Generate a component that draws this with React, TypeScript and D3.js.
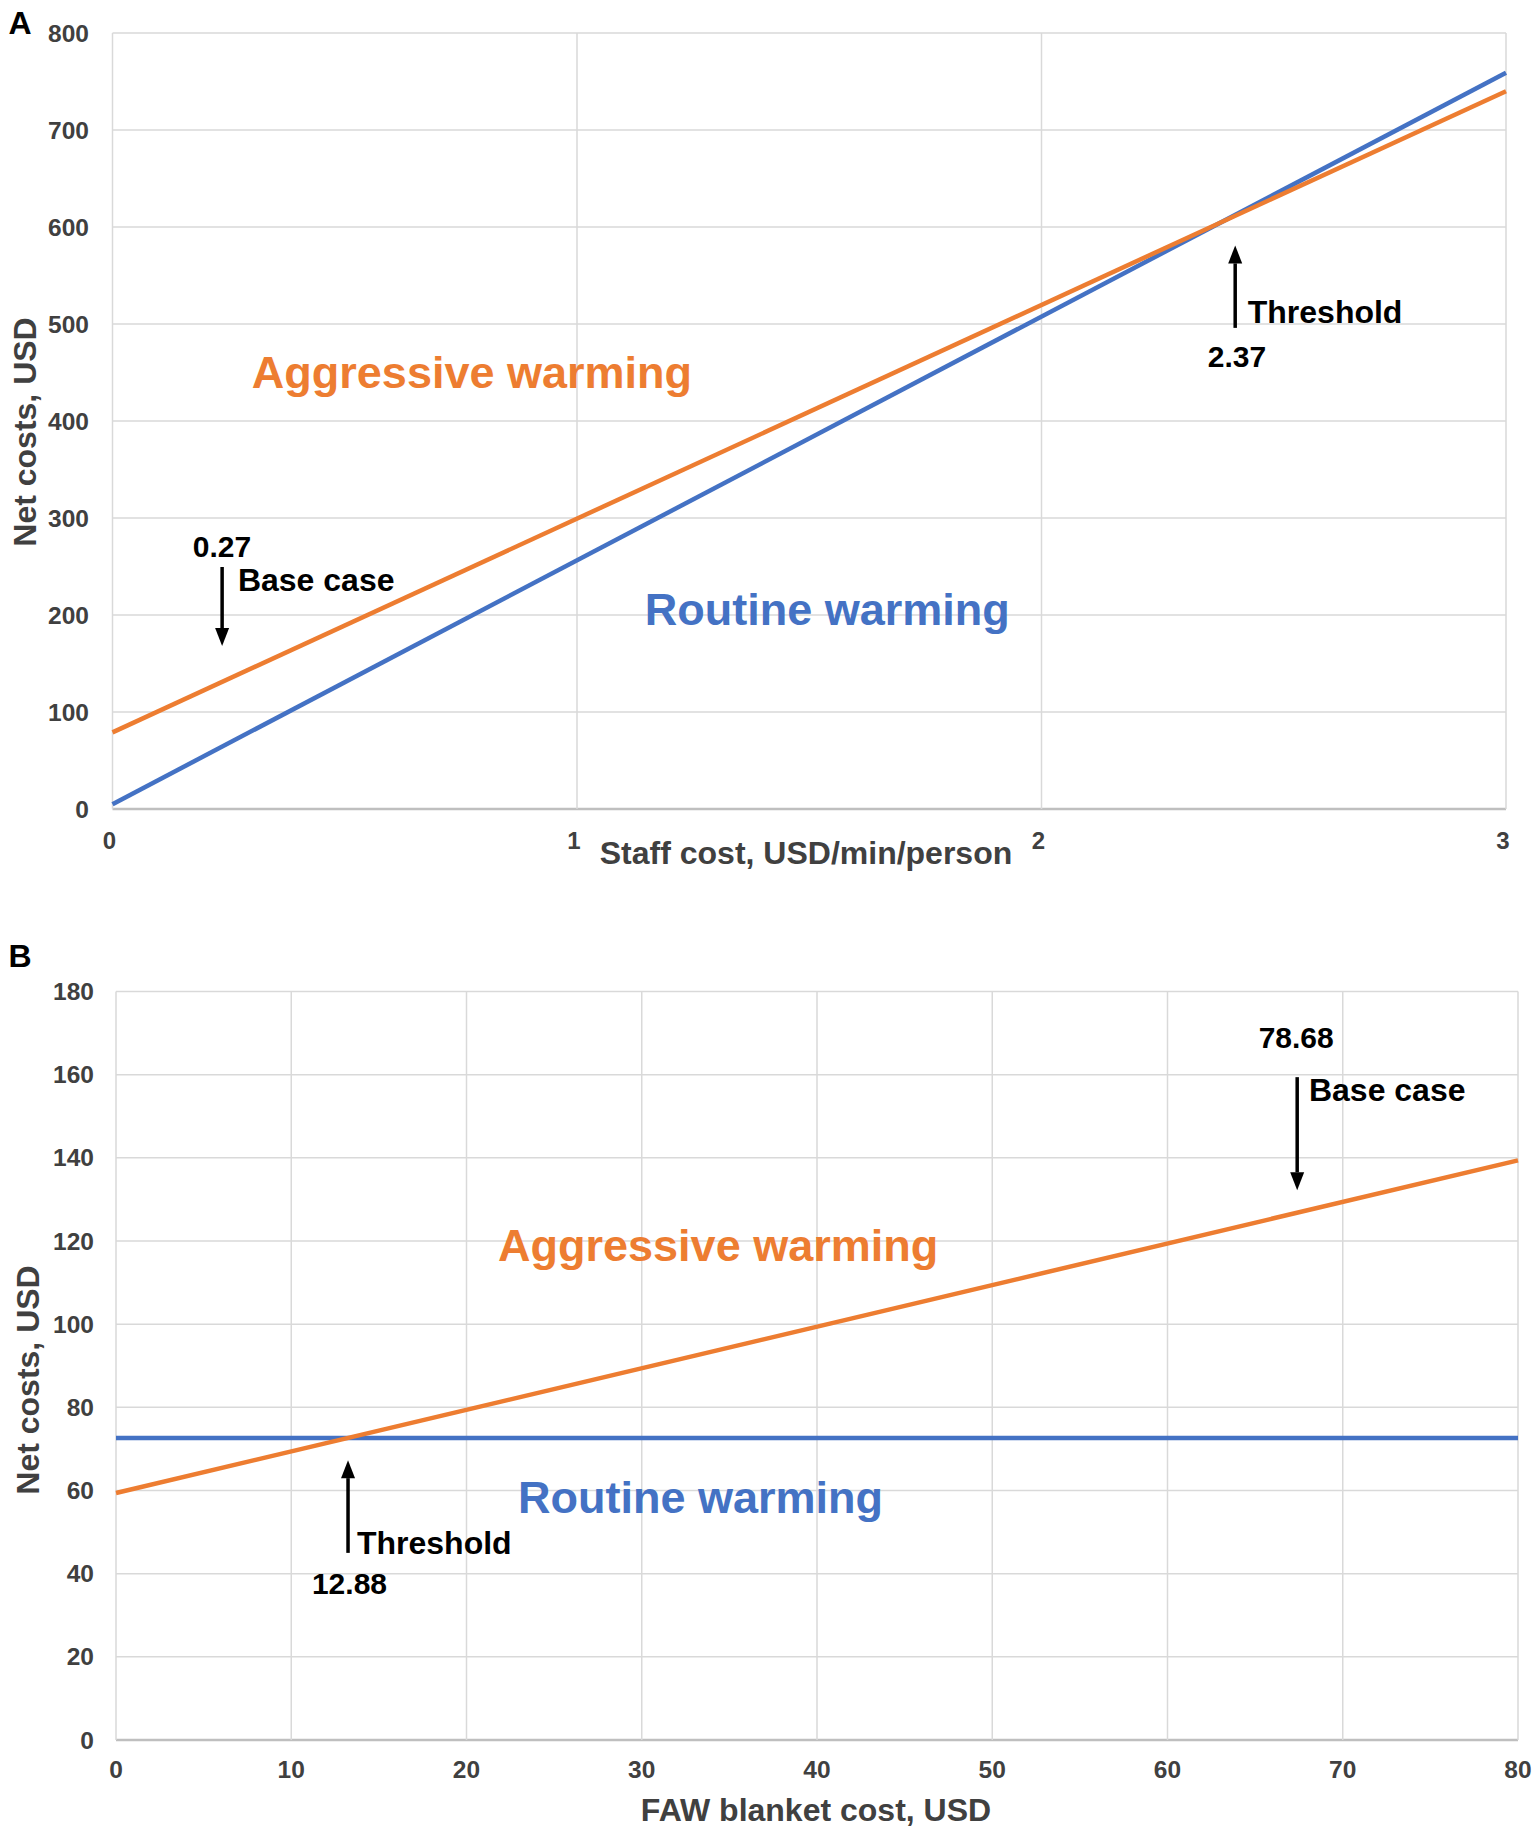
import React from "react";
import * as d3 from "d3";

// ---------- Data ----------
const panelAXTicks = [0, 1, 2, 3];
const panelAYTicks = [0, 100, 200, 300, 400, 500, 600, 700, 800];
const aggressiveA = [
  { x: 0, y: 79 },
  { x: 3, y: 740 },
];
const routineA = [
  { x: 0, y: 5 },
  { x: 3, y: 759 },
];

const panelBXTicks = [0, 10, 20, 30, 40, 50, 60, 70, 80];
const panelBYTicks = [0, 20, 40, 60, 80, 100, 120, 140, 160, 180];
const aggressiveB = [
  { x: 0, y: 59.4 },
  { x: 80, y: 139.4 },
];
const routineB = [
  { x: 0, y: 72.6 },
  { x: 80, y: 72.6 },
];

// annotations (data coordinates)
const annotationsA = {
  aggressive: { x: 0.3, y: 449.5, text: "Aggressive warming" },
  routine: { x: 1.146, y: 206, text: "Routine warming" },
  base: { value: "0.27", vx: 0.173, vy: 271, label: "Base case", lx: 0.27, ly: 236, ax: 0.236, ay0: 249.5, ay1: 168 },
  threshold: { value: "2.37", vx: 2.358, vy: 466, label: "Threshold", lx: 2.444, ly: 512, ax: 2.417, ay0: 496, ay1: 581 },
};
const annotationsB = {
  aggressive: { x: 21.8, y: 119, text: "Aggressive warming" },
  routine: { x: 22.94, y: 58.4, text: "Routine warming" },
  base: { value: "78.68", vx: 65.2, vy: 169, label: "Base case", lx: 68.07, ly: 156.2, ax: 67.4, ay0: 159.4, ay1: 132.2 },
  threshold: { value: "12.88", vx: 11.18, vy: 37.7, label: "Threshold", lx: 13.75, ly: 47.4, ax: 13.24, ay0: 45, ay1: 67.3 },
};

const ORANGE = "#ED7D31";
const BLUE = "#4472C4";
const GRID = "#d9d9d9";
const TICK = "#404040";
const FONT = "'Liberation Sans', Arial, Helvetica, sans-serif";

function Arrow({ x, y0, y1 }: { x: number; y0: number; y1: number }) {
  const dir = y1 > y0 ? 1 : -1;
  const headLen = 18;
  const headW = 7;
  const baseY = y1 - dir * headLen;
  return (
    <g>
      <line x1={x} x2={x} y1={y0} y2={baseY} stroke="#000" strokeWidth={3.5} />
      <path d={`M${x - headW},${baseY} L${x + headW},${baseY} L${x},${y1} Z`} fill="#000" />
    </g>
  );
}

type Pt = { x: number; y: number };

function Panel(props: {
  letter: string;
  letterPos: [number, number];
  left: number;
  right: number;
  top: number;
  bottom: number;
  xDomain: [number, number];
  yDomain: [number, number];
  xTicks: number[];
  yTicks: number[];
  aggressive: Pt[];
  routine: Pt[];
  ann: typeof annotationsA;
  xTitle: string;
  xTitleX: number;
  xTitleY: number;
  xTickY: number;
  xTickSize: number;
  xTickDx: number;
  yTickRight: number;
  yTitleX: number;
  yTitleY: number;
}) {
  const p = props;
  const x = d3.scaleLinear().domain(p.xDomain).range([p.left, p.right]);
  const y = d3.scaleLinear().domain(p.yDomain).range([p.bottom, p.top]);
  const line = d3
    .line<Pt>()
    .x((d) => x(d.x))
    .y((d) => y(d.y));
  const a = p.ann;
  return (
    <g fontFamily={FONT}>
      <text x={p.letterPos[0]} y={p.letterPos[1]} fontSize={32} fontWeight="bold" fill="#000" dominantBaseline="central" textAnchor="middle">
        {p.letter}
      </text>
      {/* grid */}
      {p.yTicks.map((t) => (
        <line key={"gy" + t} x1={p.left} x2={p.right} y1={y(t)} y2={y(t)} stroke={t === 0 ? "#bfbfbf" : GRID} strokeWidth={t === 0 ? 2.5 : 1.5} />
      ))}
      {p.xTicks.map((t) => (
        <line key={"gx" + t} x1={x(t)} x2={x(t)} y1={p.top} y2={p.bottom} stroke={GRID} strokeWidth={1.5} />
      ))}
      {/* tick labels */}
      {p.yTicks.map((t) => (
        <text key={"ty" + t} x={p.yTickRight} y={y(t)} fontSize={24.5} fontWeight="bold" fill={TICK} textAnchor="end" dominantBaseline="central">
          {t}
        </text>
      ))}
      {p.xTicks.map((t) => (
        <text key={"tx" + t} x={x(t) + p.xTickDx} y={p.xTickY} fontSize={p.xTickSize} fontWeight="bold" fill={TICK} textAnchor="middle" dominantBaseline="central">
          {t}
        </text>
      ))}
      {/* axis titles */}
      <text x={p.xTitleX} y={p.xTitleY} fontSize={32} fontWeight="bold" fill={TICK} textAnchor="middle" dominantBaseline="central">
        {p.xTitle}
      </text>
      <text
        transform={`translate(${p.yTitleX},${p.yTitleY}) rotate(-90)`}
        fontSize={32}
        fontWeight="bold"
        fill={TICK}
        textAnchor="middle"
        dominantBaseline="central"
      >
        Net costs, USD
      </text>
      {/* lines */}
      <path d={line(p.routine) || ""} fill="none" stroke={BLUE} strokeWidth={4.5} />
      <path d={line(p.aggressive) || ""} fill="none" stroke={ORANGE} strokeWidth={4.5} />
      {/* labels */}
      <text x={x(a.aggressive.x)} y={y(a.aggressive.y)} fontSize={45} fontWeight="bold" fill={ORANGE} dominantBaseline="central">
        {a.aggressive.text}
      </text>
      <text x={x(a.routine.x)} y={y(a.routine.y)} fontSize={45} fontWeight="bold" fill={BLUE} dominantBaseline="central">
        {a.routine.text}
      </text>
      {[a.base, a.threshold].map((n) => (
        <g key={n.label}>
          <text x={x(n.vx)} y={y(n.vy)} fontSize={30} fontWeight="bold" fill="#000" dominantBaseline="central">
            {n.value}
          </text>
          <text x={x(n.lx)} y={y(n.ly)} fontSize={32} fontWeight="bold" fill="#000" dominantBaseline="central">
            {n.label}
          </text>
          <Arrow x={x(n.ax)} y0={y(n.ay0)} y1={y(n.ay1)} />
        </g>
      ))}
    </g>
  );
}

export default function App() {
  return (
    <svg
      width={1535}
      height={1834}
      viewBox="0 0 1535 1834"
      style={{ position: "absolute", left: 0, top: 0, background: "#fff" }}
    >
      <rect x={0} y={0} width={1535} height={1834} fill="#fff" />
      <Panel
        letter="A"
        letterPos={[20, 23]}
        left={112.5}
        right={1506}
        top={33}
        bottom={809}
        xDomain={[0, 3]}
        yDomain={[0, 800]}
        xTicks={panelAXTicks}
        yTicks={panelAYTicks}
        aggressive={aggressiveA}
        routine={routineA}
        ann={annotationsA}
        xTitle="Staff cost, USD/min/person"
        xTitleX={806}
        xTitleY={853}
        xTickY={840}
        xTickSize={24}
        xTickDx={-3}
        yTickRight={89}
        yTitleX={25}
        yTitleY={432}
      />
      <Panel
        letter="B"
        letterPos={[20, 956]}
        left={116}
        right={1518}
        top={991.5}
        bottom={1740}
        xDomain={[0, 80]}
        yDomain={[0, 180]}
        xTicks={panelBXTicks}
        yTicks={panelBYTicks}
        aggressive={aggressiveB}
        routine={routineB}
        ann={annotationsB}
        xTitle="FAW blanket cost, USD"
        xTitleX={816}
        xTitleY={1810}
        xTickY={1769}
        xTickSize={24.5}
        xTickDx={0}
        yTickRight={94}
        yTitleX={28}
        yTitleY={1380}
      />
    </svg>
  );
}
